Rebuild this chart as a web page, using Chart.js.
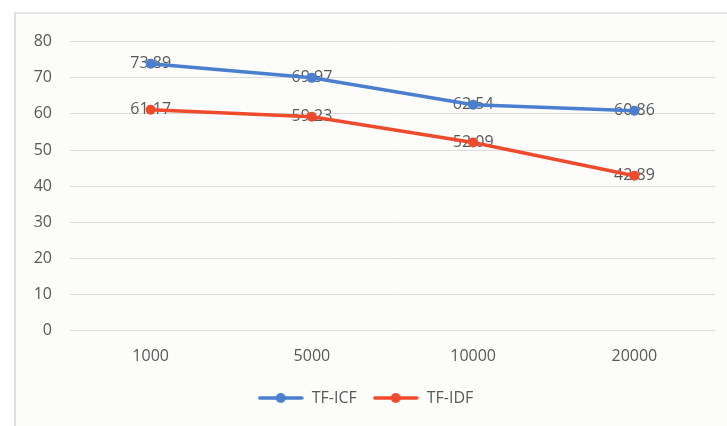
<!DOCTYPE html>
<html>
<head>
<meta charset="utf-8">
<script src="https://cdn.jsdelivr.net/npm/chart.js@4"></script>
<style>
    body { margin: 0; background: #ffffff; }
    #chartBox {
        position: absolute;
        left: 14px;
        top: 12px;
        width: 713px;
        height: 414px;
        background: #fcfcfa;
        border-left: 2px solid #dedede;
        border-top: 2px solid #e6e6e6;
        box-sizing: border-box;
    }
    canvas { display: block; }
</style>
</head>
<body>
<div id="chartBox"><canvas id="lineChart"></canvas></div>
<script>
const categories = ['1000', '5000', '10000', '20000'];
const tfIcfValues = [73.89, 69.97, 62.54, 60.86];
const tfIdfValues = [61.17, 59.23, 52.09, 42.89];
const yTicks = [0, 10, 20, 30, 40, 50, 60, 70, 80];

const blue = '#4a7fd0';
const red = '#f04a2d';
const textGray = '#595959';
const fontFamily = '"Open Sans", "Liberation Sans", sans-serif';

// 범례용 선+원 아이콘
function legendIcon(color) {
    const c = document.createElement('canvas');
    c.width = 46;
    c.height = 12;
    const ctx = c.getContext('2d');
    ctx.strokeStyle = color;
    ctx.lineWidth = 3.5;
    ctx.lineCap = 'round';
    ctx.beginPath();
    ctx.moveTo(2, 6);
    ctx.lineTo(44, 6);
    ctx.stroke();
    ctx.fillStyle = color;
    ctx.beginPath();
    ctx.arc(23, 6, 5, 0, Math.PI * 2);
    ctx.fill();
    return c;
}

// 데이터 라벨 (점 위에 가운데 정렬, 선 아래에 그림)
const pointLabels = {
    id: 'pointLabels',
    beforeDatasetsDraw(chart) {
        const ctx = chart.ctx;
        ctx.save();
        ctx.font = '16px ' + fontFamily;
        ctx.fillStyle = textGray;
        ctx.textAlign = 'center';
        ctx.textBaseline = 'middle';
        chart.data.datasets.forEach((ds, i) => {
            chart.getDatasetMeta(i).data.forEach((pt, j) => {
                ctx.fillText(ds.data[j].toFixed(2), pt.x, pt.y);
            });
        });
        ctx.restore();
    },
};

const canvas = document.getElementById('lineChart');
canvas.width = 711;
canvas.height = 412;

new Chart(canvas.getContext('2d'), {
    type: 'line',
    data: {
        labels: categories,
        datasets: [
            {
                label: 'TF-ICF',
                data: tfIcfValues,
                borderColor: blue,
                backgroundColor: blue,
                borderWidth: 3.5,
                pointRadius: 5,
                pointBackgroundColor: blue,
                pointBorderWidth: 0,
                tension: 0,
            },
            {
                label: 'TF-IDF',
                data: tfIdfValues,
                borderColor: red,
                backgroundColor: red,
                borderWidth: 3.5,
                pointRadius: 5,
                pointBackgroundColor: red,
                pointBorderWidth: 0,
                tension: 0,
            },
        ],
    },
    options: {
        responsive: false,
        animation: false,
        devicePixelRatio: 1,
        layout: {
            padding: { top: 12, right: 12, bottom: 10, left: 0 },
        },
        plugins: {
            legend: {
                position: 'bottom',
                labels: {
                    usePointStyle: true,
                    pointStyleWidth: 46,
                    color: textGray,
                    font: { family: fontFamily, size: 16 },
                    padding: 16,
                    generateLabels: (chart) => chart.data.datasets.map((ds, i) => ({
                        text: ds.label,
                        pointStyle: legendIcon(ds.borderColor),
                        fillStyle: ds.borderColor,
                        strokeStyle: ds.borderColor,
                        lineWidth: 0,
                        fontColor: textGray,
                        datasetIndex: i,
                        hidden: false,
                    })),
                },
            },
            tooltip: { enabled: false },
        },
        scales: {
            x: {
                offset: true,
                grid: { display: false },
                border: { display: false },
                ticks: {
                    color: textGray,
                    font: { family: fontFamily, size: 16 },
                    padding: 8,
                },
            },
            y: {
                min: 0,
                max: 80,
                afterBuildTicks: (scale) => {
                    scale.ticks = yTicks.map((v) => ({ value: v }));
                },
                afterFit: (scale) => {
                    scale.width = 54;
                },
                grid: { color: '#dcdcdc', lineWidth: 1, drawTicks: false },
                border: { display: false },
                ticks: {
                    color: textGray,
                    font: { family: fontFamily, size: 16 },
                    padding: 18,
                },
            },
        },
    },
    plugins: [pointLabels],
});
</script>
</body>
</html>
